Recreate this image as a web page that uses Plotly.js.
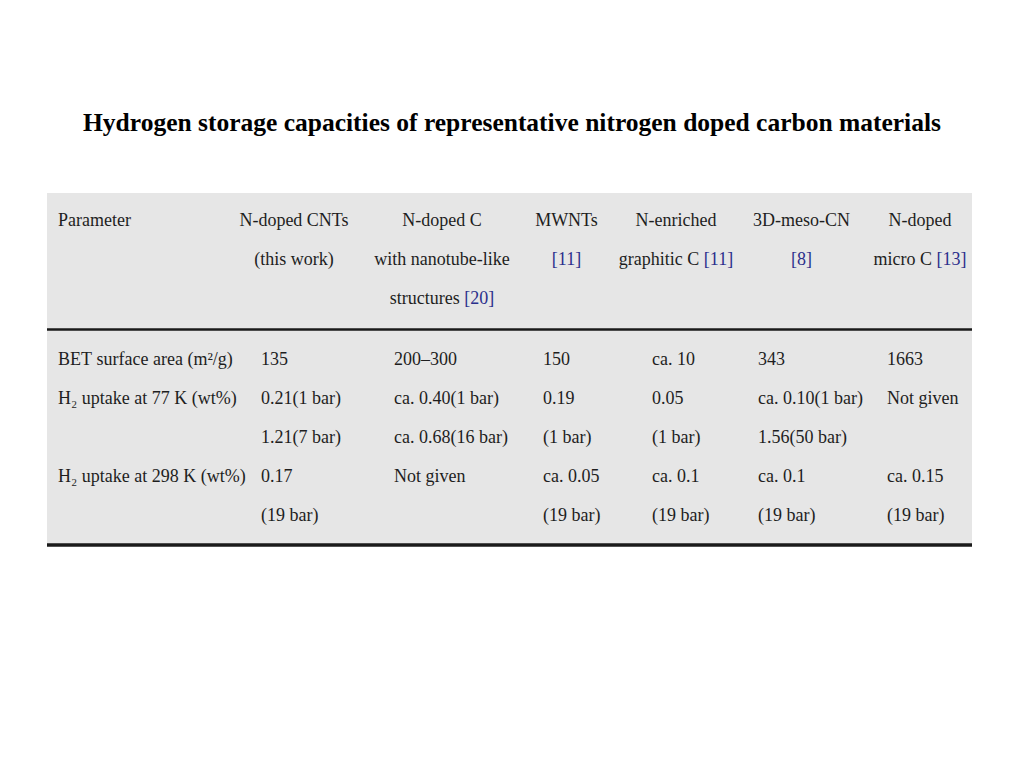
<!DOCTYPE html>
<html>
<head>
<meta charset="utf-8">
<script src="https://cdn.plot.ly/plotly-3.0.1.min.js"></script>
<style>html,body{margin:0;padding:0;background:#fff;}</style>
</head>
<body>
<div id="chart" style="width:1024px;height:768px;"></div>
<script>
// ---- Data ----
const chartTitle = "Hydrogen storage capacities of representative nitrogen doped carbon materials";
const headerParameter = ["Parameter", "", ""];
const headerNDopedCNTs = ["N-doped CNTs", "(this work)", ""];
const headerNDopedC = ["N-doped C", "with nanotube-like", "structures [20]"];
const headerMWNTs = ["MWNTs", "[11]", ""];
const headerNEnriched = ["N-enriched", "graphitic C [11]", ""];
const header3DMesoCN = ["3D-meso-CN", "[8]", ""];
const headerNDopedMicroC = ["N-doped", "micro C [13]", ""];

const parameters = ["BET surface area (m\u00b2/g)", "H\u2082 uptake at 77 K (wt%)", "", "H\u2082 uptake at 298 K (wt%)", ""];
const nDopedCNTs = ["135", "0.21(1 bar)", "1.21(7 bar)", "0.17", "(19 bar)"];
const nDopedC = ["200\u2013300", "ca. 0.40(1 bar)", "ca. 0.68(16 bar)", "Not given", ""];
const mwnts = ["150", "0.19", "(1 bar)", "ca. 0.05", "(19 bar)"];
const nEnrichedGraphiticC = ["ca. 10", "0.05", "(1 bar)", "ca. 0.1", "(19 bar)"];
const meso3DCN = ["343", "ca. 0.10(1 bar)", "1.56(50 bar)", "ca. 0.1", "(19 bar)"];
const nDopedMicroC = ["1663", "Not given", "", "ca. 0.15", "(19 bar)"];

// ---- Styling helpers ----
const W = 1024, H = 768;
const px = v => v / W;
const py = v => 1 - v / H;
const refColor = "#2b2f8c";
const textColor = "#1e1e1e";
const bgGray = "#e6e6e6";
const tableFont = {family: "Liberation Serif, Times New Roman, serif", size: 18, color: textColor};
// keep each cell on one line: non-breaking spaces in the visible text
const noWrap = s => s.replace(/ /g, "\u00a0");
// colour the bracketed references (no plain space inside the tag except after "<a")
const colorRefs = s => s.replace(/\[(\d+)\]/g, '<a href=""style="color:' + refColor + '">[$1]</a>');
// wrap every header cell in a span so all header rows are laid out the same way
const asMarkup = s => "<span>" + s + "</span>";

const headerColumns = [headerParameter, headerNDopedCNTs, headerNDopedC, headerMWNTs,
  headerNEnriched, header3DMesoCN, headerNDopedMicroC].map(col => col.map(s => asMarkup(colorRefs(noWrap(s)))));
const bodyColumns = [parameters, nDopedCNTs, nDopedC, mwnts, nEnrichedGraphiticC, meso3DCN, nDopedMicroC]
  .map(col => col.map(noWrap));

const clear = "rgba(0,0,0,0)";

const headerTrace = {
  type: "table",
  domain: {x: [px(50), px(972)], y: [py(330), py(186)]},
  columnwidth: [170, 148, 148, 101, 118, 133, 104],
  header: {values: [], fill: {color: clear}, line: {width: 0, color: clear}, height: 1},
  cells: {
    values: headerColumns,
    align: ["left", "center", "center", "center", "center", "center", "center"],
    height: 39,
    fill: {color: clear},
    line: {width: 0, color: clear},
    font: tableFont
  }
};

const bodyTrace = {
  type: "table",
  domain: {x: [px(50), px(972)], y: [py(545), py(327)]},
  columnwidth: [203, 133, 149, 109, 106, 129, 93],
  header: {values: [], fill: {color: clear}, line: {width: 0, color: clear}, height: 1},
  cells: {
    values: bodyColumns,
    align: "left",
    height: 39,
    fill: {color: clear},
    line: {width: 0, color: clear},
    font: tableFont
  }
};

const layout = {
  width: W,
  height: H,
  margin: {l: 0, r: 0, t: 0, b: 0},
  paper_bgcolor: "#ffffff",
  plot_bgcolor: "#ffffff",
  showlegend: false,
  title: {
    text: "<b>" + chartTitle + "</b>",
    x: 0.5, xanchor: "center",
    y: py(122), yanchor: "middle",
    xref: "paper", yref: "paper",
    font: {family: "Liberation Serif, Times New Roman, serif", size: 25.5, color: "#000000"}
  },
  shapes: [
    {type: "rect", xref: "paper", yref: "paper", x0: px(47), x1: px(972), y0: py(193), y1: py(546),
     fillcolor: bgGray, line: {width: 0}, layer: "below"},
    {type: "line", xref: "paper", yref: "paper", x0: px(47), x1: px(972), y0: py(329.5), y1: py(329.5),
     line: {color: "#1a1a1a", width: 2.5}},
    {type: "line", xref: "paper", yref: "paper", x0: px(47), x1: px(972), y0: py(545), y1: py(545),
     line: {color: "#1a1a1a", width: 3.5}}
  ]
};

Plotly.newPlot("chart", [headerTrace, bodyTrace], layout, {displayModeBar: false, staticPlot: true});
</script>
</body>
</html>
